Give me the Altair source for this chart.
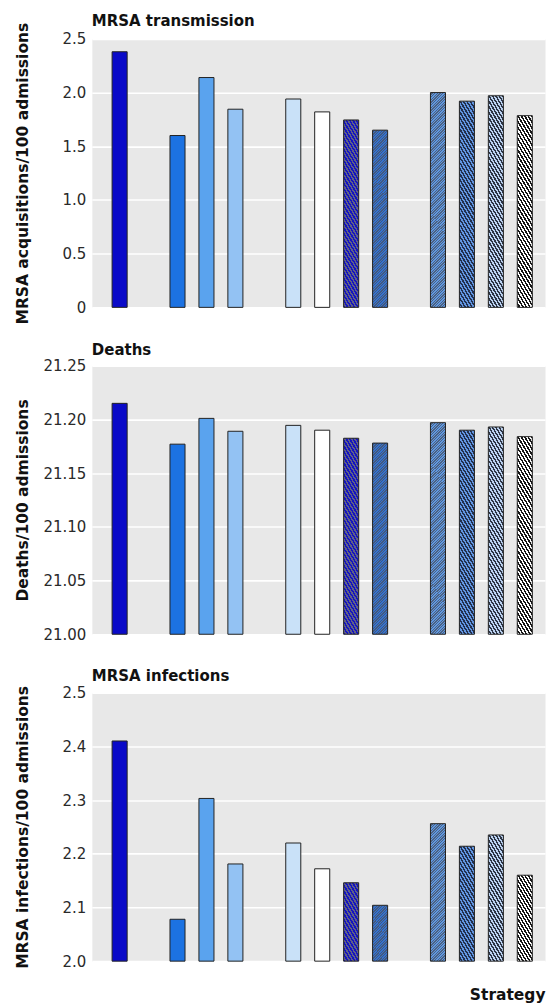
import altair as alt
import pandas as pd

# ---- data ----
strategies = ["1", "2", "3", "4", "5", "6", "7", "8", "9", "10", "11", "12"]
slots = ["1", "g1", "2", "3", "4", "g2", "5", "6", "7", "8", "g3", "9", "10", "11", "12"]
transmission = [2.38, 1.60, 2.14, 1.845, 1.94, 1.82, 1.745, 1.65, 2.00, 1.92, 1.97, 1.785]
deaths = [21.215, 21.177, 21.201, 21.189, 21.1945, 21.19, 21.1825, 21.178, 21.197, 21.19, 21.193, 21.184]
infections = [2.41, 2.078, 2.303, 2.181, 2.22, 2.172, 2.146, 2.104, 2.256, 2.214, 2.235, 2.16]

panel_titles = ["MRSA transmission", "Deaths", "MRSA infections"]
y_titles = ["MRSA acquisitions/100 admissions", "Deaths/100 admissions", "MRSA infections/100 admissions"]
y_domains = [(0, 2.5), (21.0, 21.25), (2.0, 2.5)]
y_ticks = [[0, 0.5, 1.0, 1.5, 2.0, 2.5],
           [21.0, 21.05, 21.10, 21.15, 21.20, 21.25],
           [2.0, 2.1, 2.2, 2.3, 2.4, 2.5]]
label_exprs = ["datum.value == 0 ? '0' : format(datum.value, '.1f')",
               "format(datum.value, '.2f')",
               "format(datum.value, '.1f')"]
title_offsets = [-7, 1, 1]

# fill style per strategy: ("solid", color) or ("stripe", c1, c2, period)
styles = [
    ("solid", "#0a0ac8"),
    ("solid", "#1c72e2"),
    ("solid", "#5aa3ee"),
    ("solid", "#93c2f3"),
    ("solid", "#c9e1f8"),
    ("solid", "#ffffff"),
    ("stripe", "#1414c0", "#606088", 3.4),
    ("stripe", "#3272d2", "#46597a", 1.6),
    ("stripe", "#5e98e2", "#4e6280", 1.6),
    ("stripe", "#6296e2", "#22304e", 3.4),
    ("stripe", "#bcd3f2", "#2c3444", 3.4),
    ("stripe", "#ffffff", "#151515", 3.4),
]

PLOT_W = 454
PLOT_H = 269
P_INNER = 0.48
P_OUTER = 0.569
ALIGN = 0.615
BAND_W = PLOT_W / (len(slots) - P_INNER + 2 * P_OUTER) * (1 - P_INNER)


def stripe_gradient(c1, c2, w, h, period, k=0.6):
    span = w + k * h
    s = span / (w * w + k * k * h * h)
    n = max(1, round(span / period))
    stops = []
    for i in range(n):
        a, b, c = i / n, (i + 0.5) / n, (i + 1) / n
        stops += [{"offset": a, "color": c1}, {"offset": b, "color": c1},
                  {"offset": b, "color": c2}, {"offset": c, "color": c2}]
    return {"gradient": "linear", "x1": 0, "y1": 1,
            "x2": s * w, "y2": 1 - s * k * h, "stops": stops}


def panel(i, values, show_x):
    lo, hi = y_domains[i]
    df = pd.DataFrame({"strategy": strategies, "value": values, "base": [lo] * len(values)})
    conds = []
    for name, v, st in zip(strategies, values, styles):
        if st[0] == "solid":
            val = st[1]
        else:
            h = (v - lo) / (hi - lo) * PLOT_H
            val = stripe_gradient(st[1], st[2], BAND_W, h, st[3])
        conds.append({"test": f"datum.strategy === '{name}'", "value": val})

    if show_x:
        x_axis = alt.Axis(labels=False, ticks=False, domain=False, grid=False,
                          title="Strategy", titleAnchor="end", titlePadding=26)
    else:
        x_axis = None

    return alt.Chart(df).mark_bar(stroke="#222222", strokeWidth=1).encode(
        x=alt.X("strategy:N", sort=slots, axis=x_axis,
                scale=alt.Scale(domain=slots, paddingInner=P_INNER,
                                paddingOuter=P_OUTER, align=ALIGN)),
        y=alt.Y("value:Q", scale=alt.Scale(domain=[lo, hi], zero=False, nice=False),
                axis=alt.Axis(values=y_ticks[i], labelExpr=label_exprs[i], title=y_titles[i],
                              titleX=-61)),
        y2="base:Q",
        fill={"condition": conds, "value": "#cccccc"},
    ).properties(
        width=PLOT_W, height=PLOT_H,
        title=alt.TitleParams(panel_titles[i], anchor="start", frame="group",
                              offset=title_offsets[i]),
    )


chart = alt.vconcat(
    panel(0, transmission, False),
    panel(1, deaths, False),
    panel(2, infections, True),
    spacing=58.5,
    bounds="flush",
).properties(
    padding={"left": 7, "top": 4, "right": 0, "bottom": 0},
).configure_view(
    fill="#e8e8e8", stroke="transparent"
).configure_axis(
    grid=True, gridColor="#ffffff", gridWidth=1.6, ticks=False, domain=False,
    labelFont="DejaVu Sans", labelFontSize=15, labelColor="#2a2a2a", labelPadding=6,
    titleFont="DejaVu Sans", titleFontSize=15.5, titleFontWeight="bold", titleColor="#111111",
).configure_title(
    font="DejaVu Sans", fontSize=15, fontWeight="bold", color="#111111",
)

chart.save("out.html", embed_options={"renderer": "svg", "actions": False})
